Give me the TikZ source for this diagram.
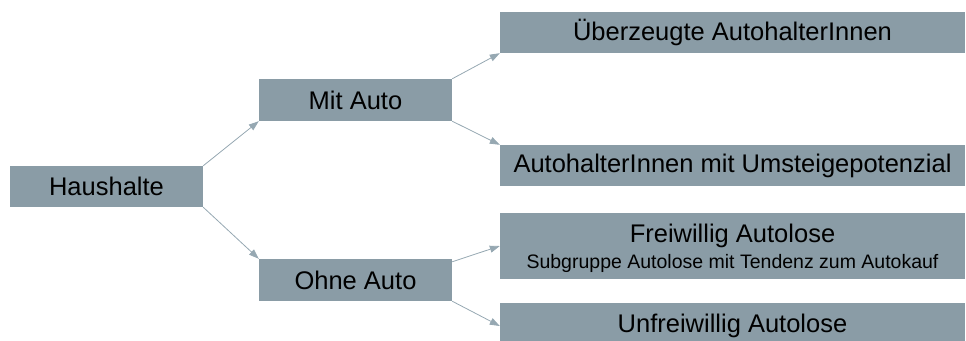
\documentclass[tikz,border=0pt]{standalone}
\usepackage{fontspec}
\setmainfont{Liberation Sans}
\usetikzlibrary{arrows.meta,calc}
\definecolor{grpfill}{RGB}{138,156,166}
\definecolor{grpline}{RGB}{150,168,178}
\tikzset{blk/.style={fill=grpfill,inner sep=0pt,minimum height=41pt,font=\fontsize{25.5}{30}\selectfont},
  small/.style={blk,minimum width=193pt},wide/.style={blk,minimum width=465pt},
  arr/.style={color=grpline,line width=0.8pt,-{Triangle[length=10pt,width=7pt]}}}
\begin{document}
\begin{tikzpicture}[x=1pt,y=-1pt]
    \useasboundingbox (0,0) rectangle (966,340);
    \node[small] (haus) at (106.5,186.5) {Haushalte};
    \node[small,minimum height=42pt] (mit) at (355.5,100) {Mit Auto};
    \node[small,minimum height=42pt] (ohne) at (355.5,280) {Ohne Auto};
    \node[wide] (ueber) at (732.5,32.5) {Überzeugte AutohalterInnen};
    \node[wide] (umst) at (732.5,165.5) {AutohalterInnen mit Umsteigepotenzial};
    \node[wide,minimum height=66pt,align=center] (frei) at (732.5,246)
      {\rule{0pt}{24pt}Freiwillig Autolose\\[-4pt]{\fontsize{19.5}{22}\selectfont Subgruppe Autolose mit Tendenz zum Autokauf}};
    \node[wide,minimum height=46pt] (unfrei) at (732.5,326) {Unfreiwillig Autolose};
    \path (haus.north east) edge[arr] (mit.south west)
    (haus.south east) edge[arr] (ohne.north west)
    (mit.north east) edge[arr] (ueber.south west)
    (mit.south east) edge[arr] (umst.north west)
    ($(ohne.north east)+(0,3)$) edge[arr] (frei.west)
    (ohne.south east) edge[arr] (unfrei.west)
    ;
\end{tikzpicture}
\end{document}
